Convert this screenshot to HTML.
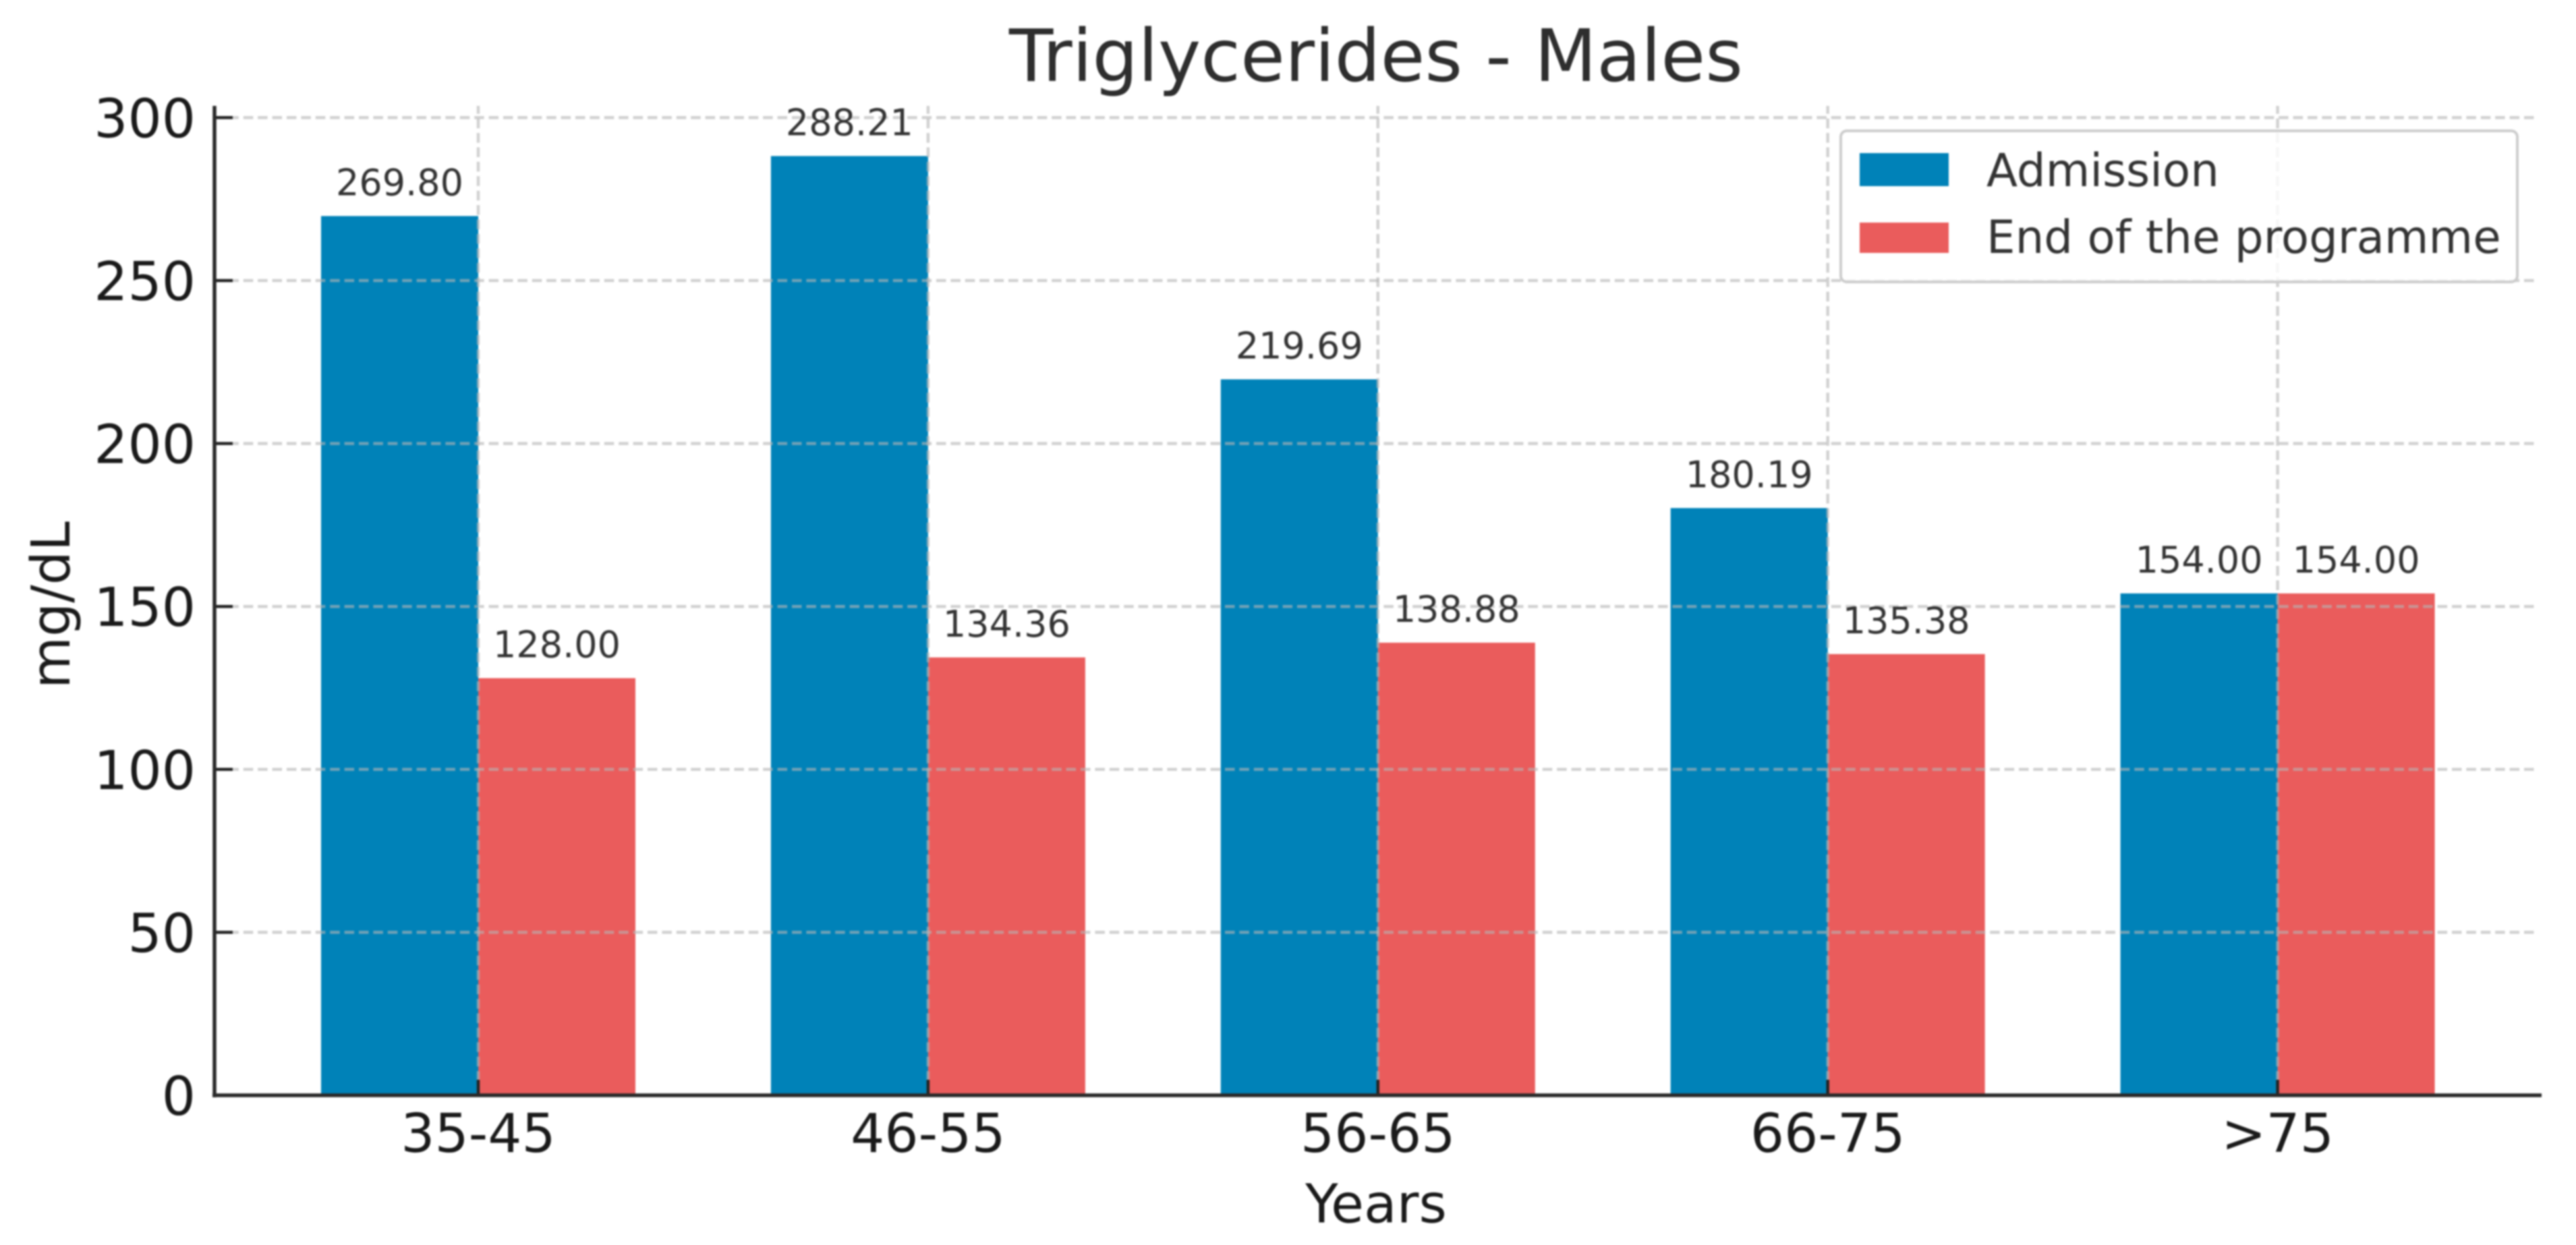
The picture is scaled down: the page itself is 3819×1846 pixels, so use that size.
<!DOCTYPE html>
<html lang="en">
<head>
<meta charset="utf-8">
<title>Triglycerides - Males</title>
<style>
html,body{margin:0;padding:0;background:#fff;width:3819px;height:1846px;overflow:hidden}
svg{display:block;filter:blur(1.4px)}
text{font-family:"DejaVu Sans","Liberation Sans",sans-serif}
</style>
</head>
<body>
<svg id="chart" xmlns="http://www.w3.org/2000/svg" width="3819" height="1846" viewBox="0 0 3819 1846">
<rect x="0" y="0" width="3819" height="1846" fill="#fff"/>
<text x="2040" y="120" text-anchor="middle" font-size="107" fill="#2e2e2e">Triglycerides - Males</text>
<text x="2040" y="1812.5" text-anchor="middle" font-size="79.5" fill="#1a1a1a">Years</text>
<text transform="translate(103,897) rotate(-90)" text-anchor="middle" font-size="79" fill="#1a1a1a">mg/dL</text>
<g id="bars"></g>
<g id="grid"></g>
<g id="labels"></g>
<g id="axes"></g>
<g>
  <rect x="2729" y="194" width="1003" height="224" rx="9" ry="9" fill="#fff" fill-opacity="0.8" stroke="#cccccc" stroke-width="4"/>
  <rect x="2757" y="227" width="132" height="49" fill="#0082b8"/>
  <text x="2945" y="276" font-size="67.4" fill="#333">Admission</text>
  <rect x="2757" y="330" width="132" height="45" fill="#ea5c5c"/>
  <text x="2945" y="375" font-size="67.4" fill="#333">End of the programme</text>
</g>
</svg>
<script>
const categories = ["35-45", "46-55", "56-65", "66-75", ">75"];
const admission = [269.80, 288.21, 219.69, 180.19, 154.00];
const endOfProgramme = [128.00, 134.36, 138.88, 135.38, 154.00];
const yTicks = [0, 50, 100, 150, 200, 250, 300];

const NS = "http://www.w3.org/2000/svg";
const X0 = 709, STEP = 666.9, BAR_W = 233;
const Y0 = 1624, UNIT = 4.832;
const AXIS_L = 318, AXIS_R = 3768, AXIS_T = 157, GRID_R = 3762;
function xAxis(i) { return X0 + STEP * i; }
function yAxis(v) { return Y0 - v * UNIT; }
function make(tag, attrs, parent) {
  const el = document.createElementNS(NS, tag);
  for (const k in attrs) el.setAttribute(k, attrs[k]);
  parent.appendChild(el);
  return el;
}
const barsG = document.getElementById("bars");
const gridG = document.getElementById("grid");
const labelsG = document.getElementById("labels");
const axesG = document.getElementById("axes");

function drawBar(i, value, left, color, series) {
  const r = make("rect", {x: left, y: yAxis(value), width: BAR_W, height: Y0 - yAxis(value), fill: color}, barsG);
  
  
  const t = make("text", {x: left + BAR_W / 2, y: yAxis(value) - 31, "text-anchor": "middle", "font-size": 54, fill: "#333"}, labelsG);
  t.textContent = value.toFixed(2);
  
  
}
categories.forEach(function (c, i) {
  drawBar(i, admission[i], xAxis(i) - BAR_W, "#0082b8", "admission");
  drawBar(i, endOfProgramme[i], xAxis(i), "#ea5c5c", "end-of-programme");
});

const gridStyle = {stroke: "#b4b4b4", "stroke-opacity": 0.62, "stroke-width": 4.5, "stroke-dasharray": "14.5 6.9", fill: "none"};
yTicks.forEach(function (v) {
  const g = make("line", Object.assign({x1: AXIS_L, x2: GRID_R, y1: yAxis(v), y2: yAxis(v)}, gridStyle), gridG);
  
  
  if (v === 0) g.setAttribute("stroke-opacity", 0);
  const tick = make("line", {x1: AXIS_L, x2: 345, y1: yAxis(v), y2: yAxis(v), stroke: "#222", "stroke-width": 4.5}, axesG);
  
  
  const lab = make("text", {x: 290, y: yAxis(v) + 29, "text-anchor": "end", "font-size": 79, fill: "#1a1a1a"}, axesG);
  lab.textContent = v;
  
  
});
categories.forEach(function (c, i) {
  const g = make("line", Object.assign({x1: xAxis(i), x2: xAxis(i), y1: Y0, y2: AXIS_T}, gridStyle), gridG);
  
  
  const tick = make("line", {x1: xAxis(i), x2: xAxis(i), y1: 1601, y2: Y0, stroke: "#222", "stroke-width": 4.5}, axesG);
  
  
  const lab = make("text", {x: xAxis(i), y: 1708, "text-anchor": "middle", "font-size": 79, fill: "#1a1a1a"}, axesG);
  lab.textContent = c;
  
  
});
const spineL = make("line", {x1: AXIS_L, x2: AXIS_L, y1: AXIS_T, y2: Y0 + 3, stroke: "#2a2a2a", "stroke-width": 5.5}, axesG);


const spineB = make("line", {x1: AXIS_L - 3, x2: AXIS_R, y1: Y0, y2: Y0, stroke: "#2a2a2a", "stroke-width": 5.5}, axesG);


</script>
</body>
</html>
